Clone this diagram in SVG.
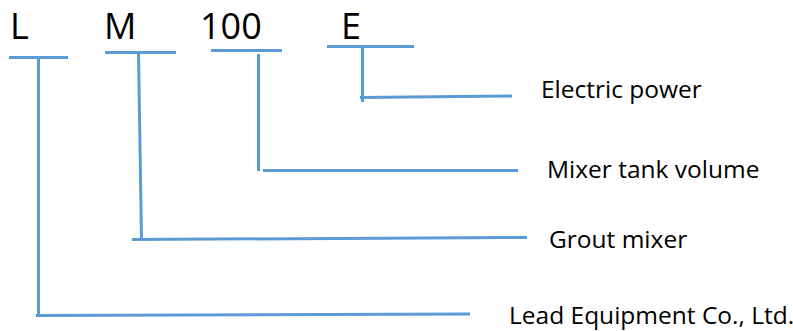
<svg xmlns="http://www.w3.org/2000/svg" width="793" height="331" viewBox="0 0 793 331">
<style>
.code{font-family:"Open Sans","Liberation Sans",sans-serif;font-size:36px;fill:#000}
.lbl{font-family:"Open Sans","Liberation Sans",sans-serif;font-size:24.5px;fill:#000}
.ln{stroke:#5B9BD5;stroke-width:3;fill:none;stroke-linecap:butt}
</style>
<rect width="793" height="331" fill="#fff"/>
<g id="node-L"><text class="code" x="10" y="39">L</text><line class="ln" x1="9" y1="57.5" x2="68" y2="57.5"/></g>
<g id="node-M"><text class="code" x="104" y="39">M</text><line class="ln" x1="105" y1="52.5" x2="176" y2="52.5"/></g>
<g id="node-100"><text class="code" x="200" y="39">100</text><line class="ln" x1="211" y1="50.5" x2="282" y2="50.5"/></g>
<g id="node-E"><text class="code" x="341" y="39">E</text><line class="ln" x1="327" y1="46.5" x2="414" y2="46.5"/></g>
<g id="label-electric"><text class="lbl" x="541" y="98">Electric power</text></g>
<g id="label-volume"><text class="lbl" x="547" y="177.5">Mixer tank volume</text></g>
<g id="label-grout"><text class="lbl" x="549" y="247.5">Grout mixer</text></g>
<g id="label-lead"><text class="lbl" x="509" y="324">Lead Equipment Co., Ltd.</text></g>
<g id="connectors">
<polyline class="ln" points="38.5,57 38.5,315.5"/>
<line class="ln" x1="36" y1="315.5" x2="470" y2="314"/>
<polyline class="ln" points="138.5,53 141.5,239.5"/>
<line class="ln" x1="132" y1="239.5" x2="527" y2="237.5"/>
<polyline class="ln" points="258.5,54 258.5,171"/>
<line class="ln" x1="263" y1="170.5" x2="518" y2="170.5"/>
<polyline class="ln" points="362.5,47 362.5,102"/>
<line class="ln" x1="360" y1="97.5" x2="512" y2="96"/>
</g>
</svg>
